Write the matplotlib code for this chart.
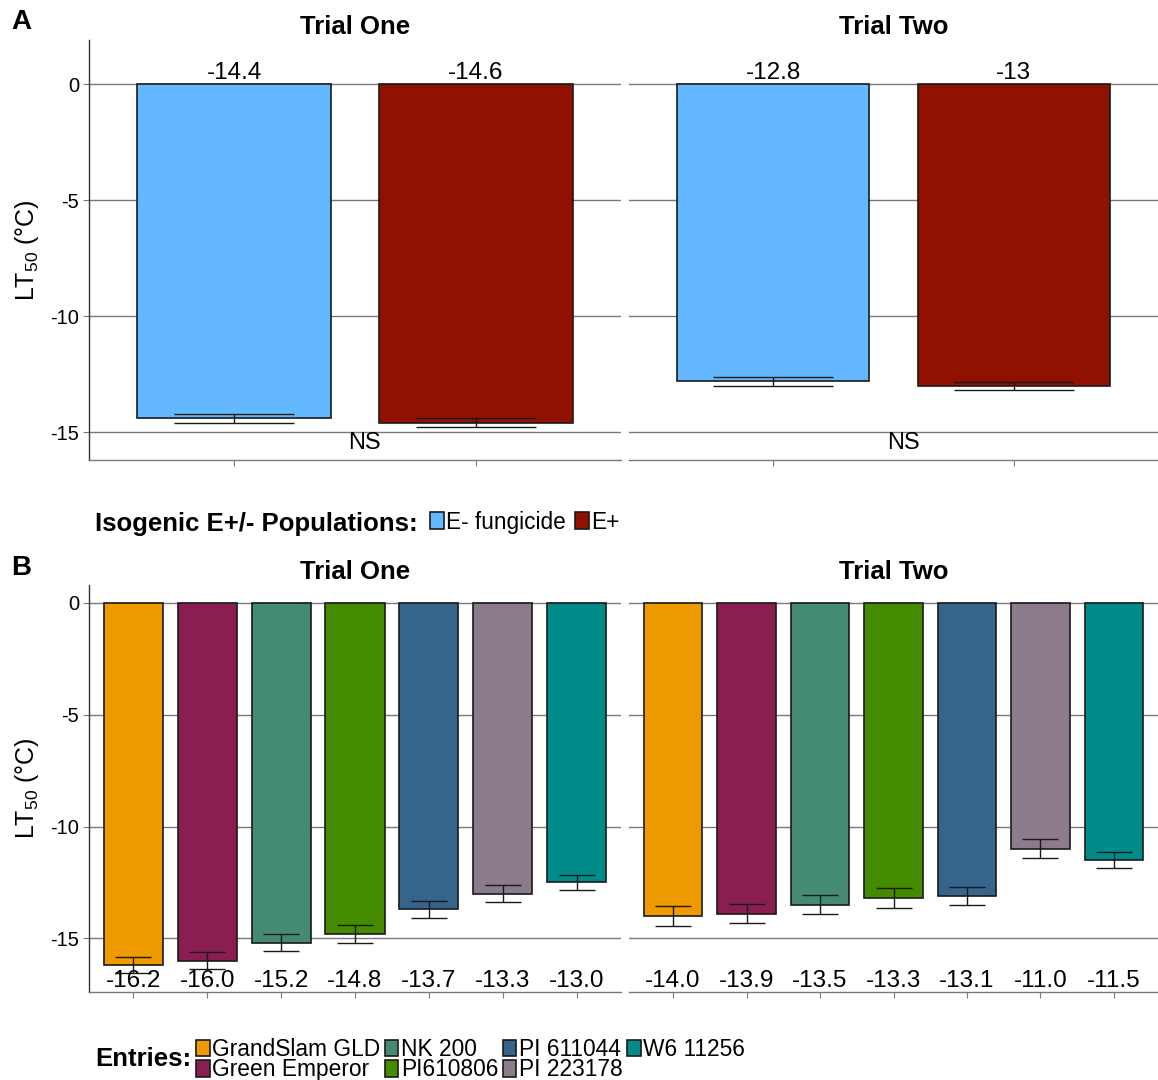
import matplotlib
matplotlib.use('Agg')
import matplotlib.pyplot as plt
from matplotlib.patches import Patch

plt.rcParams['font.family'] = ['Liberation Sans', 'DejaVu Sans']
plt.rcParams['axes.unicode_minus'] = False
plt.rcParams['mathtext.fontset'] = 'custom'
plt.rcParams['mathtext.rm'] = 'Liberation Sans'
plt.rcParams['mathtext.it'] = 'Liberation Sans:italic'

trials = ['Trial One', 'Trial Two']

# panel A - isogenic populations
pop_names = ['E- fungicide', 'E+']
pop_colors = ['#63B8FF', '#911100']
pop_means_one = [-14.4, -14.6]
pop_means_two = [-12.8, -13.0]
pop_err_one = [0.185, 0.19]
pop_err_two = [0.19, 0.18]
pop_labels_one = ['-14.4', '-14.6']
pop_labels_two = ['-12.8', '-13']
pop_sig = ['NS', 'NS']

# panel B - entries
entry_names = ['GrandSlam GLD', 'Green Emperor', 'NK 200', 'PI610806',
               'PI 611044', 'PI 223178', 'W6 11256']
entry_colors = ['#EE9A00', '#8B1E51', '#458B74', '#458B00',
                '#36648B', '#8B7B8B', '#008B8B']
entry_means_one = [-16.2, -16.0, -15.2, -14.8, -13.7, -13.0, -12.5]
entry_means_two = [-14.0, -13.9, -13.5, -13.2, -13.1, -11.0, -11.5]
entry_err_one = [0.37, 0.37, 0.38, 0.41, 0.38, 0.38, 0.33]
entry_err_two = [0.45, 0.42, 0.42, 0.45, 0.39, 0.42, 0.34]
entry_labels_one = ['-16.2', '-16.0', '-15.2', '-14.8', '-13.7', '-13.3', '-13.0']
entry_labels_two = ['-14.0', '-13.9', '-13.5', '-13.3', '-13.1', '-11.0', '-11.5']

W, H = 1158, 1080
fig = plt.figure(figsize=(W / 100, H / 100), dpi=100)


def rect(x0, y0, x1, y1):
    return [x0 / W, 1 - y1 / H, (x1 - x0) / W, (y1 - y0) / H]


GRID = '#7a7a7a'
EDGE = '#1a1a1a'


def style_axis(ax, first, ylim, n):
    ax.set_ylim(*ylim)
    ax.set_xlim(0.4, n + 0.6)
    ax.set_yticks([0, -5, -10, -15])
    ax.set_xticks(range(1, n + 1))
    ax.set_xticklabels([])
    for y in [0, -5, -10, -15]:
        ax.axhline(y, color=GRID, lw=1.0, zorder=0)
    for s in ['top', 'right']:
        ax.spines[s].set_visible(False)
    ax.spines['bottom'].set_color(GRID)
    ax.spines['bottom'].set_linewidth(1.0)
    ax.tick_params(axis='x', length=4, color=GRID, width=0.8)
    if first:
        ax.spines['left'].set_color('#333333')
        ax.spines['left'].set_linewidth(1.0)
        ax.tick_params(axis='y', length=4, color=GRID, width=0.8,
                       labelsize=14.5, pad=3)
        ax.set_ylabel('LT$_{50}$ (°C)', fontsize=18, labelpad=7)
    else:
        ax.spines['left'].set_visible(False)
        ax.tick_params(axis='y', length=0, labelleft=False)


# ---- panel A ----
pop_data = [(pop_means_one, pop_err_one, pop_labels_one),
            (pop_means_two, pop_err_two, pop_labels_two)]
panel_x = [(89, 621), (629, 1158)]
for i, (means, errs, labs) in enumerate(pop_data):
    ax = fig.add_axes(rect(panel_x[i][0], 40, panel_x[i][1], 460))
    x = list(range(1, len(means) + 1))
    ax.bar(x, means, width=0.8, color=pop_colors, edgecolor=EDGE,
           linewidth=1.2, zorder=2)
    ax.errorbar(x, means, yerr=errs, fmt='none', ecolor=EDGE,
                elinewidth=1.0, capsize=43, capthick=1.0, zorder=3)
    for xi, lab in zip(x, labs):
        ax.text(xi, 0.02, lab, ha='center', va='bottom', fontsize=17.5)
    ax.text(1.54, -15.45, pop_sig[i], ha='center', va='center', fontsize=17)
    style_axis(ax, i == 0, (-16.2, 1.9), len(means))
    ax.set_title(trials[i], fontsize=18.5, fontweight='bold', pad=4)

# ---- panel B ----
entry_data = [(entry_means_one, entry_err_one, entry_labels_one),
              (entry_means_two, entry_err_two, entry_labels_two)]
for i, (means, errs, labs) in enumerate(entry_data):
    ax = fig.add_axes(rect(panel_x[i][0], 585, panel_x[i][1], 992))
    x = list(range(1, len(means) + 1))
    ax.bar(x, means, width=0.8, color=entry_colors, edgecolor=EDGE,
           linewidth=1.2, zorder=2)
    ax.errorbar(x, means, yerr=errs, fmt='none', ecolor=EDGE,
                elinewidth=1.0, capsize=13, capthick=1.0, zorder=3)
    for xi, lab in zip(x, labs):
        ax.text(xi, -16.9, lab, ha='center', va='center', fontsize=17.5, zorder=4)
    style_axis(ax, i == 0, (-17.4, 0.8), len(means))
    ax.set_title(trials[i], fontsize=18.5, fontweight='bold', pad=4)

# panel letters
fig.text(11 / W, 1 - 22 / H, 'A', fontsize=20, fontweight='bold', va='center')
fig.text(11 / W, 1 - 568 / H, 'B', fontsize=20, fontweight='bold', va='center')

# legend A
fig.text(95 / W, 1 - 524 / H, 'Isogenic E+/- Populations:', fontsize=18.5,
         fontweight='bold', va='center')
handles_a = [Patch(facecolor=c, edgecolor=EDGE, linewidth=1.2) for c in pop_colors]
fig.legend(handles_a, pop_names, loc='center left', bbox_to_anchor=(430 / W, 1 - 522 / H),
           ncol=2, frameon=False, fontsize=16.3, handlelength=0.6, handleheight=0.75,
           handletextpad=0.12, columnspacing=0.4, borderpad=0, borderaxespad=0)

# legend B
fig.text(95 / W, 1 - 1059 / H, 'Entries:', fontsize=18.5,
         fontweight='bold', va='center')
handles_b = [Patch(facecolor=c, edgecolor=EDGE, linewidth=1.2) for c in entry_colors]
fig.legend(handles_b, entry_names, loc='upper left', bbox_to_anchor=(196 / W, 1 - 1038 / H),
           ncol=4, frameon=False, fontsize=16.4, handlelength=0.6, handleheight=0.75,
           handletextpad=0.1, columnspacing=0.2, labelspacing=-0.12,
           borderpad=0, borderaxespad=0)

fig.savefig('out.png', dpi=100)
